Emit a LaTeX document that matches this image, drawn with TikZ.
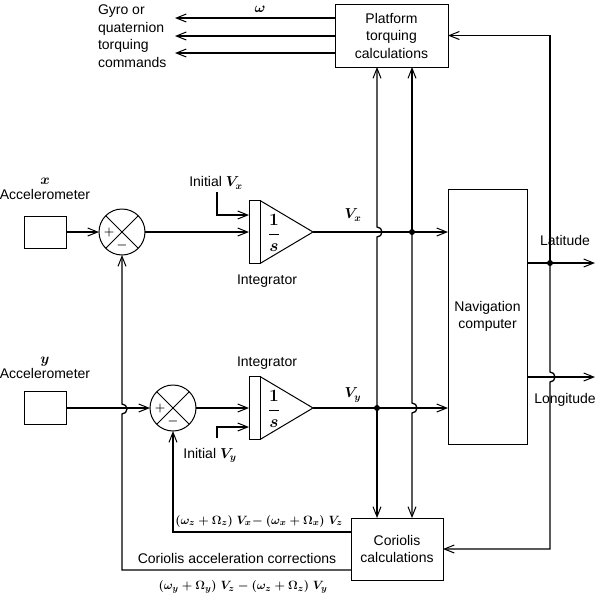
\documentclass[tikz,border=0pt]{standalone}
\usepackage{fontspec}
\setmainfont{Liberation Sans}
\usetikzlibrary{arrows.meta}
\begin{document}
\begin{tikzpicture}[x=1pt,y=-1pt,
  every node/.style={font=\fontsize{14}{17.5}\selectfont\boldmath, inner sep=0pt, outer sep=0pt},
  box/.style={draw, line width=1pt, align=center},
  wire/.style={line width=1.3pt},
  arr/.style={wire, -{Straight Barb[length=10pt,width=8pt,line width=1pt]}},
  dot/.style={fill=black},
  summer/.style={circle, draw, line width=1pt, minimum size=46},
  intbar/.style={draw, line width=1pt, minimum width=11, minimum height=63},
  sign/.style={font=\fontsize{12}{14}\selectfont\boldmath},
  frac/.style={font=\fontsize{16}{18}\selectfont\boldmath},
  formula/.style={font=\fontsize{12.3}{15}\selectfont\boldmath}]
\useasboundingbox (0,0) rectangle (600,600);

% ---- boxes
\node[box, minimum width=113, minimum height=63] (plat) at (391.5,35.5) {Platform\\torquing\\calculations};
\node[box, minimum width=79, minimum height=255] (nav) at (487.5,316.5) {Navigation\\computer};
\node[box, minimum width=92, minimum height=62] (cor) at (397,549) {Coriolis\\calculations};
\node[box, minimum width=42, minimum height=32] (xacc) at (45,232) {};
\node[box, minimum width=42, minimum height=33] (yacc) at (45,408) {};

% ---- labels
\node[align=left, anchor=west] (gyro) at (98,36) {Gyro or\\quaternion\\torquing\\commands};
\node (om) at (260,9) {$\omega$};
\node[align=center] (xlab) at (45,189) {$x$\\[-3pt]Accelerometer};
\node[align=center] (ylab) at (45,368) {$y$\\[-3pt]Accelerometer};
\node (ivx) at (216,183) {Initial $V_x$};
\node (ivy) at (210,455) {Initial $V_y$};
\node (intlx) at (267,281) {Integrator};
\node (intly) at (267,363) {Integrator};
\node (vxl) at (353,215) {$V_x$};
\node (vyl) at (353,395) {$V_y$};
\node (lat) at (565,240) {Latitude};
\node (lon) at (565,400) {Longitude};
\node[formula] (f1) at (259,521) {$(\omega_z+\Omega_z)\;V_x\!-(\omega_x+\Omega_x)\;V_z$};
\node (cac) at (237,558) {Coriolis acceleration corrections};
\node[formula] (f2) at (243,587) {$(\omega_y+\Omega_y)\;V_z-(\omega_z+\Omega_z)\;V_y$};

% ---- summers
\node[summer] (sumx) at (122,232) {};
\draw[line width=1pt] (sumx.north west) -- (sumx.south east) (sumx.north east) -- (sumx.south west);
\node[sign] (sxp) at (109,232) {$+$};
\node[sign] (sxm) at (122,245) {$-$};
\node[summer] (sumy) at (173,408) {};
\draw[line width=1pt] (sumy.north west) -- (sumy.south east) (sumy.north east) -- (sumy.south west);
\node[sign] (syp) at (160,408) {$+$};
\node[sign] (sym) at (173,421) {$-$};

% ---- integrators
\node[intbar] (intx) at (254.5,232) {};
\coordinate (intxa) at (313,232);
\draw[line width=1pt] (intx.north east) -- (intxa) -- (intx.south east);
\node[frac] (fx) at (274,233) {$\displaystyle\frac{1}{s}$};
\node[intbar] (inty) at (254.5,408) {};
\coordinate (intya) at (313,408);
\draw[line width=1pt] (inty.north east) -- (intya) -- (inty.south east);
\node[frac] (fy) at (274,409) {$\displaystyle\frac{1}{s}$};

% ---- coordinates
\coordinate (g1) at (175,18);
\coordinate (g2) at (175,36);
\coordinate (g3) at (175,53);
\coordinate (ivxs) at (217,192);
\coordinate (ivxe) at (249,215);
\coordinate (ivys) at (217,438);
\coordinate (ivye) at (249,427);
\coordinate (dvx) at (412,232);
\coordinate (dvy) at (377,408);
\coordinate (dlat) at (550,263);
\coordinate (late) at (595,263);
\coordinate (lone) at (595,377);
\coordinate (rtop) at (550,35.5);
\coordinate (rbot) at (550,549);
\coordinate (c1) at (173,532);
\coordinate (c2) at (122,570);

% ---- platform outputs
\draw[arr] (plat.west |- g1) -- (g1);
\draw[arr] (plat.west |- g2) -- (g2);
\draw[arr] (plat.west |- g3) -- (g3);

% ---- accelerometer channels
\draw[arr] (xacc.east) -- (sumx.west);
\draw[arr] (sumx.east) -- (intx.west);
\draw[arr] (ivxs) |- (ivxe);
\draw[arr] (yacc.east) -- (sumy.west);
\draw[arr] (sumy.east) -- (inty.west);
\draw[arr] (ivys) |- (ivye);

% ---- velocities
\draw[arr] (intxa) -- (nav.west |- intxa);
\draw[arr] (intya) -- (nav.west |- intya);
\fill[dot] (dvx) circle (3);
\fill[dot] (dvy) circle (3);

% Vx column (x=412)
\draw[arr] (dvx) -- (plat.south -| dvx);
\draw[arr] (dvx) -- (412,403) arc(-90:90:5) -- (cor.north -| dvx);
% Vy column (x=377)
\draw[arr] (dvy) -- (377,237) arc(90:-90:5) -- (plat.south -| dvy);
\draw[arr] (dvy) -- (cor.north -| dvy);

% ---- latitude / longitude
\draw[arr] (nav.east |- dlat) -- (late);
\draw[arr] (nav.east |- lone) -- (lone);
\fill[dot] (dlat) circle (3);
\draw[arr] (dlat) -- (rtop) -- (plat.east);
\draw[arr] (dlat) -- (550,372) arc(-90:90:5) -- (rbot) -- (cor.east);

% ---- coriolis corrections
\draw[arr] (cor.west |- c1) -- (c1) -- (sumy.south);
\draw[arr] (cor.west |- c2) -- (c2) -- (122,414) arc(90:-90:5) -- (sumx.south);
\end{tikzpicture}
\end{document}
